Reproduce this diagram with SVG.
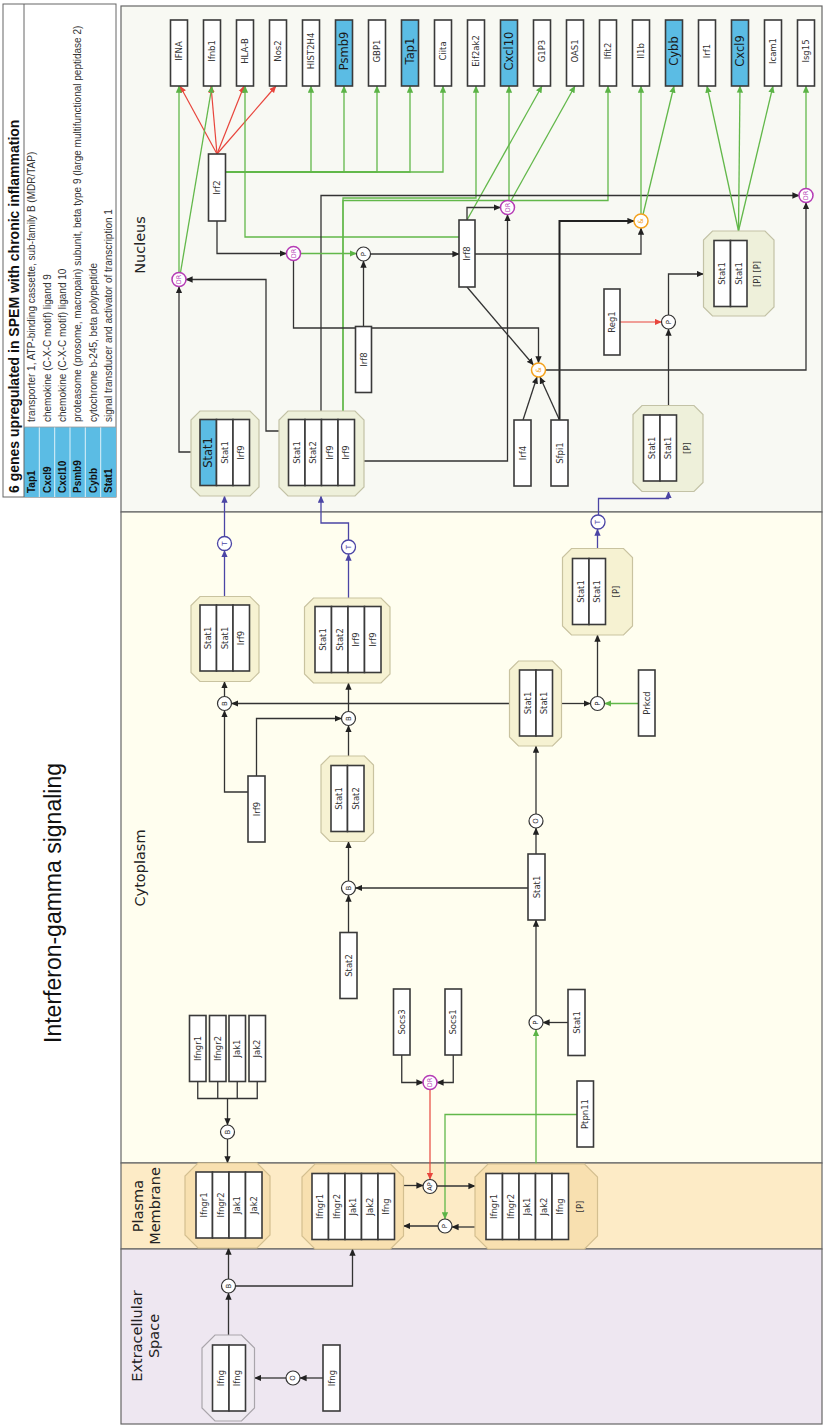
<svg xmlns="http://www.w3.org/2000/svg" width="825" height="1427" viewBox="0 0 825 1427">
<style>
.bx{fill:#fff;stroke:#3a3a3a;stroke-width:1.6}
.bb{fill:#5bbce4;stroke:#3a3a3a;stroke-width:1.6}
.t{font-family:"DejaVu Sans",sans-serif;font-size:8.5px;fill:#333;text-anchor:middle;dominant-baseline:central}
.tb{font-family:"DejaVu Sans",sans-serif;font-size:11.5px;fill:#1a1a1a;text-anchor:middle;dominant-baseline:central}
.cl{font-family:"DejaVu Sans",sans-serif;font-size:14.5px;fill:#222;text-anchor:middle;dominant-baseline:central}
.cn{fill:#eef0da;stroke:#c3c2a6;stroke-width:1.2}
.cc{fill:#f6f2d2;stroke:#c9c3a0;stroke-width:1.2}
.cm{fill:#f8e0b0;stroke:#d4bf90;stroke-width:1.2}
.ce{fill:#efeaf1;stroke:#a9a5ab;stroke-width:1.2}
.k{stroke:#333;stroke-width:1.3;fill:none}
.k2{stroke:#222;stroke-width:2;fill:none}
.g{stroke:#62b84a;stroke-width:1.3;fill:none}
.r{stroke:#e8453c;stroke-width:1.2;fill:none}
.u{stroke:#4b45a5;stroke-width:1.3;fill:none}
.nk{fill:#fff;stroke:#333;stroke-width:1.2}
.nm{fill:#fff;stroke:#b53cb5;stroke-width:1.5}
.no{fill:#fff;stroke:#f4a21e;stroke-width:1.5}
.nu{fill:#fff;stroke:#4b45a5;stroke-width:1.3}
.ct{font-family:"DejaVu Sans",sans-serif;font-size:7px;fill:#222;text-anchor:middle;dominant-baseline:central}
.cmt{font-family:"DejaVu Sans",sans-serif;font-size:6.5px;fill:#b53cb5;text-anchor:middle;dominant-baseline:central}
.cot{font-family:"DejaVu Sans",sans-serif;font-size:7px;fill:#f4a21e;text-anchor:middle;dominant-baseline:central}
.cut{font-family:"DejaVu Sans",sans-serif;font-size:7px;fill:#4b45a5;text-anchor:middle;dominant-baseline:central}
.lg{font-family:"Liberation Sans",Arial,sans-serif;font-size:10px;fill:#333;dominant-baseline:central}
.lgb{font-family:"Liberation Sans",Arial,sans-serif;font-size:10px;font-weight:bold;fill:#111;dominant-baseline:central}
</style>
<defs>
<marker id="ak" viewBox="0 0 10 10" refX="9.5" refY="5" markerWidth="7" markerHeight="7" orient="auto" markerUnits="userSpaceOnUse"><path d="M0,0.5 L10,5 L0,9.5 Z" fill="#222"/></marker>
<marker id="ag" viewBox="0 0 10 10" refX="9.5" refY="5" markerWidth="7" markerHeight="7" orient="auto" markerUnits="userSpaceOnUse"><path d="M0,0.5 L10,5 L0,9.5 Z" fill="#5bb346"/></marker>
<marker id="ar" viewBox="0 0 10 10" refX="9.5" refY="5" markerWidth="7" markerHeight="7" orient="auto" markerUnits="userSpaceOnUse"><path d="M0,0.5 L10,5 L0,9.5 Z" fill="#e8453c"/></marker>
<marker id="au" viewBox="0 0 10 10" refX="9.5" refY="5" markerWidth="7" markerHeight="7" orient="auto" markerUnits="userSpaceOnUse"><path d="M0,0.5 L10,5 L0,9.5 Z" fill="#4b45a5"/></marker>
</defs>
<rect x="0" y="0" width="825" height="1427" fill="#fff"/>

<!-- Title -->
<text x="53" y="903" transform="rotate(-90 53 903)" style="font-family:'Liberation Sans',Arial,sans-serif;font-size:23px;fill:#111;text-anchor:middle;dominant-baseline:central">Interferon-gamma signaling</text>

<!-- Legend -->
<g id="legend">
<rect x="3" y="4" width="113" height="493" fill="#fff" stroke="#666" stroke-width="1"/>
<rect x="24" y="427" width="92" height="70" fill="#5bbce4"/>
<line x1="24" y1="4" x2="24" y2="497" stroke="#666" stroke-width="1"/>
<g stroke="#fff" stroke-width="0.8"><line x1="39.3" y1="427" x2="39.3" y2="497"/><line x1="54.7" y1="427" x2="54.7" y2="497"/><line x1="70" y1="427" x2="70" y2="497"/><line x1="85.3" y1="427" x2="85.3" y2="497"/><line x1="100.7" y1="427" x2="100.7" y2="497"/></g>
<line x1="24" y1="427" x2="116" y2="427" stroke="#999" stroke-width="0.8"/>
<text x="14" y="493" transform="rotate(-90 14 493)" style="font-family:'Liberation Sans',Arial,sans-serif;font-size:14px;font-weight:bold;fill:#111;dominant-baseline:central">6 genes upregulated in SPEM with chronic inflammation</text>
<text class="lgb" x="31.7" y="493" transform="rotate(-90 31.7 493)">Tap1</text>
<text class="lgb" x="47" y="493" transform="rotate(-90 47 493)">Cxcl9</text>
<text class="lgb" x="62.3" y="493" transform="rotate(-90 62.3 493)">Cxcl10</text>
<text class="lgb" x="77.7" y="493" transform="rotate(-90 77.7 493)">Psmb9</text>
<text class="lgb" x="93" y="493" transform="rotate(-90 93 493)">Cybb</text>
<text class="lgb" x="108.3" y="493" transform="rotate(-90 108.3 493)">Stat1</text>
<text class="lg" x="31.7" y="422" transform="rotate(-90 31.7 422)">transporter 1, ATP-binding cassette, sub-family B (MDR/TAP)</text>
<text class="lg" x="47" y="422" transform="rotate(-90 47 422)">chemokine (C-X-C motif) ligand 9</text>
<text class="lg" x="62.3" y="422" transform="rotate(-90 62.3 422)">chemokine (C-X-C motif) ligand 10</text>
<text class="lg" x="77.7" y="422" transform="rotate(-90 77.7 422)">proteasome (prosome, macropain) subunit, beta type 9 (large multifunctional peptidase 2)</text>
<text class="lg" x="93" y="422" transform="rotate(-90 93 422)">cytochrome b-245, beta polypeptide</text>
<text class="lg" x="108.3" y="422" transform="rotate(-90 108.3 422)">signal transducer and activator of transcription 1</text>
</g>

<!-- Compartments -->
<g id="compartments">
<rect x="121" y="6" width="701" height="506" fill="#f8f9f3" stroke="#666" stroke-width="1.2"/>
<rect x="121" y="512" width="701" height="651" fill="#fffeef" stroke="#666" stroke-width="1.2"/>
<rect x="121" y="1163" width="701" height="86" fill="#fdebc6" stroke="#666" stroke-width="1.2"/>
<rect x="121" y="1249" width="701" height="175" fill="#eee7f1" stroke="#666" stroke-width="1.2"/>
<text class="cl" x="140" y="245" transform="rotate(-90 140 245)">Nucleus</text>
<text class="cl" x="140" y="868" transform="rotate(-90 140 868)">Cytoplasm</text>
<text class="cl" x="138" y="1206" transform="rotate(-90 138 1206)">Plasma</text>
<text class="cl" x="155" y="1206" transform="rotate(-90 155 1206)">Membrane</text>
<text class="cl" x="137" y="1336" transform="rotate(-90 137 1336)">Extracellular</text>
<text class="cl" x="154" y="1336" transform="rotate(-90 154 1336)">Space</text>
</g>

<!-- Connectors -->
<g id="connectors">
<!-- Irf2 red inhibitions -->
<path class="r" d="M217,154 L180,86" marker-end="url(#ar)"/>
<path class="r" d="M217,154 L211,86" marker-end="url(#ar)"/>
<path class="r" d="M217,154 L244,86" marker-end="url(#ar)"/>
<path class="r" d="M217,154 L276,86" marker-end="url(#ar)"/>
<!-- Irf2 green -->
<path class="g" d="M225.5,172 H311 V86" marker-end="url(#ag)"/>
<path class="g" d="M225.5,172 H344 V86" marker-end="url(#ag)"/>
<path class="g" d="M225.5,172 H377 V86" marker-end="url(#ag)"/>
<path class="g" d="M225.5,172 H410 V86" marker-end="url(#ag)"/>
<path class="g" d="M225.5,172 H443 V86" marker-end="url(#ag)"/>
<!-- Irf8 upper -->
<path class="g" d="M459,237 H245 V86" marker-end="url(#ag)"/>
<path class="g" d="M467,220 L542,86" marker-end="url(#ag)"/>
<path class="k" d="M467,220 V207.5 H500.5" marker-end="url(#ak)"/>
<path class="k" d="M475,254 H641 V228" marker-end="url(#ak)"/>
<path class="k" d="M467,287 L533.5,365" marker-end="url(#ak)"/>
<!-- DR3 -->
<path class="g" d="M509,200.5 V86" marker-end="url(#ag)"/>
<path class="g" d="M510.5,201.5 L575,86" marker-end="url(#ag)"/>
<!-- complex B outputs -->
<path class="g" d="M343,411 V198 H476 V86" marker-end="url(#ag)"/>
<path class="g" d="M343,411 V200.5 H608 V86" marker-end="url(#ag)"/>
<path class="k" d="M321,411 V195.5 H799" marker-end="url(#ak)"/>
<path class="k" d="M279,431 H266 V279.5 H186" marker-end="url(#ak)"/>
<path class="k" d="M355,461 H507.5 V214.5" marker-end="url(#ak)"/>
<!-- complex A -->
<path class="k" d="M191,452 H179 V286.5" marker-end="url(#ak)"/>
<!-- DR1 -->
<path class="g" d="M179,272.5 V86" marker-end="url(#ag)"/>
<path class="g" d="M180.5,272.5 L212,86" marker-end="url(#ag)"/>
<!-- Irf2 to DR2 -->
<path class="k" d="M217,221 V253.5 H286.5" marker-end="url(#ak)"/>
<path class="g" d="M300.5,253.5 H356.5" marker-end="url(#ag)"/>
<path class="k" d="M293.5,260.5 V328 H538.5 V363" marker-end="url(#ak)"/>
<path class="k" d="M363.5,326.5 V261" marker-end="url(#ak)"/>
<path class="k" d="M370.5,254 H459" marker-end="url(#ak)"/>
<!-- Irf4 / Sfpi1 -->
<path class="k" d="M523,420 L537,377" marker-end="url(#ak)"/>
<path class="k" d="M559.5,420 L540,377" marker-end="url(#ak)"/>
<path class="k2" d="M559.5,420 V221 H634" marker-end="url(#ak)"/>
<path class="k" d="M545.5,370 H806 V202.5" marker-end="url(#ak)"/>
<!-- O1 outputs -->
<path class="g" d="M641,214 V86" marker-end="url(#ag)"/>
<path class="g" d="M643,214.5 L674,86" marker-end="url(#ag)"/>
<!-- DR4 -->
<path class="g" d="M806,188.5 V86" marker-end="url(#ag)"/>
<!-- N4 outputs -->
<path class="g" d="M738.5,231 L707,86" marker-end="url(#ag)"/>
<path class="g" d="M738.5,231 L740,86" marker-end="url(#ag)"/>
<path class="g" d="M738.5,231 L773,86" marker-end="url(#ag)"/>
<path class="k" d="M668.5,315 V274 H703.5" marker-end="url(#ak)"/>
<path class="r" d="M620,322 H661.5" marker-end="url(#ar)"/>
<path class="k" d="M668.5,405.5 V329" marker-end="url(#ak)"/>
<!-- translocations -->
<path class="u" d="M597.5,548.5 V529" marker-end="url(#au)"/>
<path class="u" d="M598.5,515 V498.5 H668.5 V491.5" marker-end="url(#au)"/>
<path class="u" d="M224.5,596.5 V550.5" marker-end="url(#au)"/>
<path class="u" d="M224.5,536.5 V496" marker-end="url(#au)"/>
<path class="u" d="M348.5,598 V554" marker-end="url(#au)"/>
<path class="u" d="M348.5,540 V523 H321 V496" marker-end="url(#au)"/>
<!-- cytoplasm -->
<path class="k" d="M509.5,703.5 H231.5" marker-end="url(#ak)"/>
<path class="k" d="M224.5,696.5 V681.5" marker-end="url(#ak)"/>
<path class="k" d="M248,792 H224.5 V710.5" marker-end="url(#ak)"/>
<path class="k" d="M256.5,776 V718.5 H341.5" marker-end="url(#ak)"/>
<path class="k" d="M348.5,711.5 V683" marker-end="url(#ak)"/>
<path class="k" d="M348.5,756 V725.5" marker-end="url(#ak)"/>
<path class="k" d="M561.5,703.5 H590.5" marker-end="url(#ak)"/>
<path class="g" d="M638.5,703.5 H604.5" marker-end="url(#ag)"/>
<path class="k" d="M597.5,696.5 V635" marker-end="url(#ak)"/>
<path class="k" d="M536,814 V746" marker-end="url(#ak)"/>
<path class="k" d="M536,854 V828" marker-end="url(#ak)"/>
<path class="k" d="M528.5,888 H355.5" marker-end="url(#ak)"/>
<path class="k" d="M348.5,881 V841.5" marker-end="url(#ak)"/>
<path class="k" d="M348.5,932.5 V895" marker-end="url(#ak)"/>
<path class="k" d="M536,1015.5 V920" marker-end="url(#ak)"/>
<path class="k" d="M568,1022.5 H543" marker-end="url(#ak)"/>
<path class="g" d="M536,1164 V1029.5" marker-end="url(#ag)"/>
<path class="g" d="M577,1114.5 H445 V1219" marker-end="url(#ag)"/>
<path class="k" d="M401.75,1055 V1082.5 H423" marker-end="url(#ak)"/>
<path class="k" d="M453.25,1055 V1082.5 H437" marker-end="url(#ak)"/>
<path class="r" d="M430,1089.5 V1179.5" marker-end="url(#ar)"/>
<path class="k" d="M197.75,1081.5 V1098.5 H257.25 V1081.5 M217.75,1081.5 V1098.5 M237.25,1081.5 V1098.5"/>
<path class="k" d="M227.5,1098.5 V1125" marker-end="url(#ak)"/>
<path class="k" d="M227.5,1139 V1163" marker-end="url(#ak)"/>
<!-- membrane -->
<path class="k" d="M403.5,1185.5 H423" marker-end="url(#ak)"/>
<path class="k" d="M437,1186 H475" marker-end="url(#ak)"/>
<path class="k" d="M475,1227 H452" marker-end="url(#ak)"/>
<path class="k" d="M438,1226 H403.5" marker-end="url(#ak)"/>
<!-- extracellular -->
<path class="k" d="M228.5,1279 V1248" marker-end="url(#ak)"/>
<path class="k" d="M235.5,1286 H352.5 V1249" marker-end="url(#ak)"/>
<path class="k" d="M228.5,1335 V1293" marker-end="url(#ak)"/>
<path class="k" d="M323,1378 H300" marker-end="url(#ak)"/>
<path class="k" d="M286,1378 H254.5" marker-end="url(#ak)"/>
</g>

<!-- Gene nodes -->
<g id="IFNA"><rect class="bx" x="170.5" y="20" width="17" height="66"/><text class="t" x="179" y="51" transform="rotate(-90 179 51)">IFNA</text></g>
<g id="Ifnb1"><rect class="bx" x="203.5" y="20" width="17" height="66"/><text class="t" x="212" y="51" transform="rotate(-90 212 51)">Ifnb1</text></g>
<g id="HLA-B"><rect class="bx" x="236.5" y="20" width="17" height="66"/><text class="t" x="245" y="51" transform="rotate(-90 245 51)">HLA-B</text></g>
<g id="Nos2"><rect class="bx" x="269.5" y="20" width="17" height="66"/><text class="t" x="278" y="51" transform="rotate(-90 278 51)">Nos2</text></g>
<g id="HIST2H4"><rect class="bx" x="302.5" y="20" width="17" height="66"/><text class="t" x="311" y="51" transform="rotate(-90 311 51)">HIST2H4</text></g>
<g id="Psmb9"><rect class="bb" x="335.5" y="20" width="17" height="66"/><text class="tb" x="344" y="51" transform="rotate(-90 344 51)">Psmb9</text></g>
<g id="GBP1"><rect class="bx" x="368.5" y="20" width="17" height="66"/><text class="t" x="377" y="51" transform="rotate(-90 377 51)">GBP1</text></g>
<g id="Tap1"><rect class="bb" x="401.5" y="20" width="17" height="66"/><text class="tb" x="410" y="51" transform="rotate(-90 410 51)">Tap1</text></g>
<g id="Ciita"><rect class="bx" x="434.5" y="20" width="17" height="66"/><text class="t" x="443" y="51" transform="rotate(-90 443 51)">Ciita</text></g>
<g id="Eif2ak2"><rect class="bx" x="467.5" y="20" width="17" height="66"/><text class="t" x="476" y="51" transform="rotate(-90 476 51)">Eif2ak2</text></g>
<g id="Cxcl10"><rect class="bb" x="500.5" y="20" width="17" height="66"/><text class="tb" x="509" y="51" transform="rotate(-90 509 51)">Cxcl10</text></g>
<g id="G1P3"><rect class="bx" x="533.5" y="20" width="17" height="66"/><text class="t" x="542" y="51" transform="rotate(-90 542 51)">G1P3</text></g>
<g id="OAS1"><rect class="bx" x="566.5" y="20" width="17" height="66"/><text class="t" x="575" y="51" transform="rotate(-90 575 51)">OAS1</text></g>
<g id="Ifit2"><rect class="bx" x="599.5" y="20" width="17" height="66"/><text class="t" x="608" y="51" transform="rotate(-90 608 51)">Ifit2</text></g>
<g id="Il1b"><rect class="bx" x="632.5" y="20" width="17" height="66"/><text class="t" x="641" y="51" transform="rotate(-90 641 51)">Il1b</text></g>
<g id="Cybb"><rect class="bb" x="665.5" y="20" width="17" height="66"/><text class="tb" x="674" y="51" transform="rotate(-90 674 51)">Cybb</text></g>
<g id="Irf1"><rect class="bx" x="698.5" y="20" width="17" height="66"/><text class="t" x="707" y="51" transform="rotate(-90 707 51)">Irf1</text></g>
<g id="Cxcl9"><rect class="bb" x="731.5" y="20" width="17" height="66"/><text class="tb" x="740" y="51" transform="rotate(-90 740 51)">Cxcl9</text></g>
<g id="Icam1"><rect class="bx" x="764.5" y="20" width="17" height="66"/><text class="t" x="773" y="51" transform="rotate(-90 773 51)">Icam1</text></g>
<g id="Isg15"><rect class="bx" x="797.5" y="20" width="17" height="66"/><text class="t" x="806" y="51" transform="rotate(-90 806 51)">Isg15</text></g>

<!-- Nucleus single nodes -->
<g id="Irf2"><rect class="bx" x="208.5" y="154" width="17" height="67"/><text class="t" x="217" y="187.5" transform="rotate(-90 217 187.5)">Irf2</text></g>
<g id="Irf8-upper"><rect class="bx" x="459" y="220" width="16" height="67"/><text class="t" x="467" y="253.5" transform="rotate(-90 467 253.5)">Irf8</text></g>
<g id="Irf8-lower"><rect class="bx" x="355.5" y="326.5" width="16" height="66"/><text class="t" x="363.5" y="359.5" transform="rotate(-90 363.5 359.5)">Irf8</text></g>
<g id="Irf4"><rect class="bx" x="514" y="420" width="17" height="66"/><text class="t" x="522.5" y="453" transform="rotate(-90 522.5 453)">Irf4</text></g>
<g id="Sfpi1"><rect class="bx" x="551" y="420" width="17" height="66"/><text class="t" x="559.5" y="453" transform="rotate(-90 559.5 453)">Sfpi1</text></g>
<g id="Reg1"><rect class="bx" x="604" y="289" width="16" height="66"/><text class="t" x="612" y="322" transform="rotate(-90 612 322)">Reg1</text></g>

<!-- Nucleus complexes -->
<g id="cplx-A">
<path class="cn" d="M200,411 H250 L259,420 V487 L250,496 H200 L191,487 V420 Z"/>
<rect class="bb" x="200" y="419.5" width="16.5" height="66"/><rect class="bx" x="216.5" y="419.5" width="16.5" height="66"/><rect class="bx" x="233" y="419.5" width="16.5" height="66"/>
<text class="tb" x="208.25" y="452.5" transform="rotate(-90 208.25 452.5)">Stat1</text>
<text class="t" x="224.75" y="452.5" transform="rotate(-90 224.75 452.5)">Stat1</text>
<text class="t" x="241.25" y="452.5" transform="rotate(-90 241.25 452.5)">Irf9</text>
</g>
<g id="cplx-B">
<path class="cn" d="M288,411 H355 L364,420 V487 L355,496 H288 L279,487 V420 Z"/>
<rect class="bx" x="288.5" y="419.5" width="16.5" height="66"/><rect class="bx" x="305" y="419.5" width="16.5" height="66"/><rect class="bx" x="321.5" y="419.5" width="16.5" height="66"/><rect class="bx" x="338" y="419.5" width="16.5" height="66"/>
<text class="t" x="296.75" y="452.5" transform="rotate(-90 296.75 452.5)">Stat1</text>
<text class="t" x="313.25" y="452.5" transform="rotate(-90 313.25 452.5)">Stat2</text>
<text class="t" x="329.75" y="452.5" transform="rotate(-90 329.75 452.5)">Irf9</text>
<text class="t" x="346.25" y="452.5" transform="rotate(-90 346.25 452.5)">Irf9</text>
</g>
<g id="cplx-N3">
<path class="cn" d="M642,405.5 H694 L703,414.5 V482.5 L694,491.5 H642 L633,482.5 V414.5 Z"/>
<rect class="bx" x="643.5" y="415" width="16.5" height="66"/><rect class="bx" x="660" y="415" width="16.5" height="66"/>
<text class="t" x="651.75" y="448" transform="rotate(-90 651.75 448)">Stat1</text>
<text class="t" x="668.25" y="448" transform="rotate(-90 668.25 448)">Stat1</text>
<text class="t" x="687" y="448" transform="rotate(-90 687 448)">[P]</text>
</g>
<g id="cplx-N4">
<path class="cn" d="M712.5,231 H765 L774,240 V307 L765,316 H712.5 L703.5,307 V240 Z"/>
<rect class="bx" x="714" y="240.5" width="16.5" height="66"/><rect class="bx" x="730.5" y="240.5" width="16.5" height="66"/>
<text class="t" x="722.25" y="273.5" transform="rotate(-90 722.25 273.5)">Stat1</text>
<text class="t" x="738.75" y="273.5" transform="rotate(-90 738.75 273.5)">Stat1</text>
<text class="t" x="757" y="274" transform="rotate(-90 757 274)">[P] [P]</text>
</g>

<!-- Cytoplasm complexes -->
<g id="cplx-C">
<path class="cc" d="M200,596.5 H250 L259,605.5 V672.5 L250,681.5 H200 L191,672.5 V605.5 Z"/>
<rect class="bx" x="200" y="605" width="16.5" height="66"/><rect class="bx" x="216.5" y="605" width="16.5" height="66"/><rect class="bx" x="233" y="605" width="16.5" height="66"/>
<text class="t" x="208.25" y="638" transform="rotate(-90 208.25 638)">Stat1</text>
<text class="t" x="224.75" y="638" transform="rotate(-90 224.75 638)">Stat1</text>
<text class="t" x="241.25" y="638" transform="rotate(-90 241.25 638)">Irf9</text>
</g>
<g id="cplx-D">
<path class="cc" d="M313.5,598 H381 L390,607 V674 L381,683 H313.5 L304.5,674 V607 Z"/>
<rect class="bx" x="315" y="606.5" width="16.5" height="66"/><rect class="bx" x="331.5" y="606.5" width="16.5" height="66"/><rect class="bx" x="348" y="606.5" width="16.5" height="66"/><rect class="bx" x="364.5" y="606.5" width="16.5" height="66"/>
<text class="t" x="323.25" y="639.5" transform="rotate(-90 323.25 639.5)">Stat1</text>
<text class="t" x="339.75" y="639.5" transform="rotate(-90 339.75 639.5)">Stat2</text>
<text class="t" x="356.25" y="639.5" transform="rotate(-90 356.25 639.5)">Irf9</text>
<text class="t" x="372.75" y="639.5" transform="rotate(-90 372.75 639.5)">Irf9</text>
</g>
<g id="cplx-SS">
<path class="cc" d="M330,756 H364.5 L373.5,765 V832.5 L364.5,841.5 H330 L321,832.5 V765 Z"/>
<rect class="bx" x="331" y="765.5" width="16.5" height="66"/><rect class="bx" x="347.5" y="765.5" width="16.5" height="66"/>
<text class="t" x="339.25" y="798.5" transform="rotate(-90 339.25 798.5)">Stat1</text>
<text class="t" x="355.75" y="798.5" transform="rotate(-90 355.75 798.5)">Stat2</text>
</g>
<g id="cplx-E">
<path class="cc" d="M518.5,661 H552.5 L561.5,670 V737 L552.5,746 H518.5 L509.5,737 V670 Z"/>
<rect class="bx" x="519.5" y="670" width="16.5" height="66"/><rect class="bx" x="536" y="670" width="16.5" height="66"/>
<text class="t" x="527.75" y="703" transform="rotate(-90 527.75 703)">Stat1</text>
<text class="t" x="544.25" y="703" transform="rotate(-90 544.25 703)">Stat1</text>
</g>
<g id="cplx-F">
<path class="cc" d="M571.5,548.5 H623.5 L632.5,557.5 V626 L623.5,635 H571.5 L562.5,626 V557.5 Z"/>
<rect class="bx" x="572.5" y="558.5" width="16.5" height="66"/><rect class="bx" x="589" y="558.5" width="16.5" height="66"/>
<text class="t" x="580.75" y="591.5" transform="rotate(-90 580.75 591.5)">Stat1</text>
<text class="t" x="597.25" y="591.5" transform="rotate(-90 597.25 591.5)">Stat1</text>
<text class="t" x="616" y="591.5" transform="rotate(-90 616 591.5)">[P]</text>
</g>

<!-- Cytoplasm single nodes -->
<g id="Irf9"><rect class="bx" x="248" y="776" width="17" height="66"/><text class="t" x="256.5" y="809" transform="rotate(-90 256.5 809)">Irf9</text></g>
<g id="Stat1-mid"><rect class="bx" x="528" y="854" width="17" height="66"/><text class="t" x="536.5" y="887" transform="rotate(-90 536.5 887)">Stat1</text></g>
<g id="Stat2"><rect class="bx" x="340" y="932.5" width="17" height="66"/><text class="t" x="348.5" y="965.5" transform="rotate(-90 348.5 965.5)">Stat2</text></g>
<g id="Stat1-right"><rect class="bx" x="568" y="989.5" width="17" height="66"/><text class="t" x="576.5" y="1022.5" transform="rotate(-90 576.5 1022.5)">Stat1</text></g>
<g id="Prkcd"><rect class="bx" x="638.5" y="670" width="16.5" height="66"/><text class="t" x="646.75" y="703" transform="rotate(-90 646.75 703)">Prkcd</text></g>
<g id="Socs3"><rect class="bx" x="393.5" y="989" width="16.5" height="66"/><text class="t" x="401.75" y="1022" transform="rotate(-90 401.75 1022)">Socs3</text></g>
<g id="Socs1"><rect class="bx" x="445" y="989" width="16.5" height="66"/><text class="t" x="453.25" y="1022" transform="rotate(-90 453.25 1022)">Socs1</text></g>
<g id="Ptpn11"><rect class="bx" x="577" y="1081" width="16.5" height="66"/><text class="t" x="585.25" y="1114" transform="rotate(-90 585.25 1114)">Ptpn11</text></g>
<g id="Ifngr1-c"><rect class="bx" x="189.5" y="1015.5" width="16.5" height="66"/><text class="t" x="197.75" y="1048.5" transform="rotate(-90 197.75 1048.5)">Ifngr1</text></g>
<g id="Ifngr2-c"><rect class="bx" x="209.5" y="1015.5" width="16.5" height="66"/><text class="t" x="217.75" y="1048.5" transform="rotate(-90 217.75 1048.5)">Ifngr2</text></g>
<g id="Jak1-c"><rect class="bx" x="229" y="1015.5" width="16.5" height="66"/><text class="t" x="237.25" y="1048.5" transform="rotate(-90 237.25 1048.5)">Jak1</text></g>
<g id="Jak2-c"><rect class="bx" x="249" y="1015.5" width="16.5" height="66"/><text class="t" x="257.25" y="1048.5" transform="rotate(-90 257.25 1048.5)">Jak2</text></g>

<!-- Membrane complexes -->
<g id="cplx-M1">
<path class="cm" d="M198,1163 H257 L270,1176 V1235 L257,1248 H198 L185,1235 V1176 Z"/>
<rect class="bx" x="196" y="1172" width="16.5" height="66"/><rect class="bx" x="212.5" y="1172" width="16.5" height="66"/><rect class="bx" x="229" y="1172" width="16.5" height="66"/><rect class="bx" x="245.5" y="1172" width="16.5" height="66"/>
<text class="t" x="204.25" y="1205" transform="rotate(-90 204.25 1205)">Ifngr1</text>
<text class="t" x="220.75" y="1205" transform="rotate(-90 220.75 1205)">Ifngr2</text>
<text class="t" x="237.25" y="1205" transform="rotate(-90 237.25 1205)">Jak1</text>
<text class="t" x="253.75" y="1205" transform="rotate(-90 253.75 1205)">Jak2</text>
</g>
<g id="cplx-M2">
<path class="cm" d="M315,1164 H390.5 L403.5,1177 V1236 L390.5,1249 H315 L302,1236 V1177 Z"/>
<rect class="bx" x="312" y="1173.5" width="16.5" height="66"/><rect class="bx" x="328.5" y="1173.5" width="16.5" height="66"/><rect class="bx" x="345" y="1173.5" width="16.5" height="66"/><rect class="bx" x="361.5" y="1173.5" width="16.5" height="66"/><rect class="bx" x="378" y="1173.5" width="16.5" height="66"/>
<text class="t" x="320.25" y="1206.5" transform="rotate(-90 320.25 1206.5)">Ifngr1</text>
<text class="t" x="336.75" y="1206.5" transform="rotate(-90 336.75 1206.5)">Ifngr2</text>
<text class="t" x="353.25" y="1206.5" transform="rotate(-90 353.25 1206.5)">Jak1</text>
<text class="t" x="369.75" y="1206.5" transform="rotate(-90 369.75 1206.5)">Jak2</text>
<text class="t" x="386.25" y="1206.5" transform="rotate(-90 386.25 1206.5)">Ifng</text>
</g>
<g id="cplx-M3">
<path class="cm" d="M488,1164 H584.5 L597.5,1177 V1236 L584.5,1249 H488 L475,1236 V1177 Z"/>
<rect class="bx" x="486" y="1173.5" width="16.5" height="66"/><rect class="bx" x="502.5" y="1173.5" width="16.5" height="66"/><rect class="bx" x="519" y="1173.5" width="16.5" height="66"/><rect class="bx" x="535.5" y="1173.5" width="16.5" height="66"/><rect class="bx" x="552" y="1173.5" width="16.5" height="66"/>
<text class="t" x="494.25" y="1206.5" transform="rotate(-90 494.25 1206.5)">Ifngr1</text>
<text class="t" x="510.75" y="1206.5" transform="rotate(-90 510.75 1206.5)">Ifngr2</text>
<text class="t" x="527.25" y="1206.5" transform="rotate(-90 527.25 1206.5)">Jak1</text>
<text class="t" x="543.75" y="1206.5" transform="rotate(-90 543.75 1206.5)">Jak2</text>
<text class="t" x="560.25" y="1206.5" transform="rotate(-90 560.25 1206.5)">Ifng</text>
<text class="t" x="580" y="1206.5" transform="rotate(-90 580 1206.5)">[P]</text>
</g>

<!-- Extracellular -->
<g id="cplx-Ifng">
<path class="ce" d="M215,1335 H241.5 L254.5,1348 V1408 L241.5,1421 H215 L202,1408 V1348 Z"/>
<rect class="bx" x="212.5" y="1345" width="16.5" height="66"/><rect class="bx" x="229" y="1345" width="16.5" height="66"/>
<text class="t" x="220.75" y="1378" transform="rotate(-90 220.75 1378)">Ifng</text>
<text class="t" x="237.25" y="1378" transform="rotate(-90 237.25 1378)">Ifng</text>
</g>
<g id="Ifng"><rect class="bx" x="323" y="1345" width="17" height="66"/><text class="t" x="331.5" y="1378" transform="rotate(-90 331.5 1378)">Ifng</text></g>

<!-- Process nodes -->
<g id="DR1"><circle class="nm" cx="179" cy="279.5" r="7"/><text class="cmt" x="179" y="279.5" transform="rotate(-90 179 279.5)">DR</text></g>
<g id="DR2"><circle class="nm" cx="293.5" cy="253.5" r="7"/><text class="cmt" x="293.5" y="253.5" transform="rotate(-90 293.5 253.5)">DR</text></g>
<g id="P1"><circle class="nk" cx="363.5" cy="254" r="7"/><text class="ct" x="363.5" y="254" transform="rotate(-90 363.5 254)">P</text></g>
<g id="DR3"><circle class="nm" cx="507.5" cy="207.5" r="7"/><text class="cmt" x="507.5" y="207.5" transform="rotate(-90 507.5 207.5)">DR</text></g>
<g id="AND1"><circle class="no" cx="641" cy="221" r="7"/><text class="cot" x="641" y="221" transform="rotate(-90 641 221)">&amp;</text></g>
<g id="AND2"><circle class="no" cx="538.5" cy="370" r="7"/><text class="cot" x="538.5" y="370" transform="rotate(-90 538.5 370)">&amp;</text></g>
<g id="DR4"><circle class="nm" cx="806" cy="195.5" r="7"/><text class="cmt" x="806" y="195.5" transform="rotate(-90 806 195.5)">DR</text></g>
<g id="P2"><circle class="nk" cx="668.5" cy="322" r="7"/><text class="ct" x="668.5" y="322" transform="rotate(-90 668.5 322)">P</text></g>
<g id="T1"><circle class="nu" cx="224.5" cy="543.5" r="7"/><text class="cut" x="224.5" y="543.5" transform="rotate(-90 224.5 543.5)">T</text></g>
<g id="T2"><circle class="nu" cx="348.5" cy="547" r="7"/><text class="cut" x="348.5" y="547" transform="rotate(-90 348.5 547)">T</text></g>
<g id="T3"><circle class="nu" cx="598" cy="522" r="7"/><text class="cut" x="598" y="522" transform="rotate(-90 598 522)">T</text></g>
<g id="B1"><circle class="nk" cx="224.5" cy="703.5" r="7"/><text class="ct" x="224.5" y="703.5" transform="rotate(-90 224.5 703.5)">B</text></g>
<g id="B2"><circle class="nk" cx="348.5" cy="718.5" r="7"/><text class="ct" x="348.5" y="718.5" transform="rotate(-90 348.5 718.5)">B</text></g>
<g id="O3"><circle class="nk" cx="536" cy="821" r="7"/><text class="ct" x="536" y="821" transform="rotate(-90 536 821)">O</text></g>
<g id="P3"><circle class="nk" cx="597.5" cy="703.5" r="7"/><text class="ct" x="597.5" y="703.5" transform="rotate(-90 597.5 703.5)">P</text></g>
<g id="B3"><circle class="nk" cx="348.5" cy="888" r="7"/><text class="ct" x="348.5" y="888" transform="rotate(-90 348.5 888)">B</text></g>
<g id="P4"><circle class="nk" cx="536" cy="1022.5" r="7"/><text class="ct" x="536" y="1022.5" transform="rotate(-90 536 1022.5)">P</text></g>
<g id="DR5"><circle class="nm" cx="430" cy="1082.5" r="7"/><text class="cmt" x="430" y="1082.5" transform="rotate(-90 430 1082.5)">DR</text></g>
<g id="B4"><circle class="nk" cx="227.5" cy="1132" r="7"/><text class="ct" x="227.5" y="1132" transform="rotate(-90 227.5 1132)">B</text></g>
<g id="AP"><circle class="nk" cx="430" cy="1186.5" r="7"/><text class="ct" x="430" y="1186.5" transform="rotate(-90 430 1186.5)" style="font-size:6.5px">AP</text></g>
<g id="P5"><circle class="nk" cx="445" cy="1226" r="7"/><text class="ct" x="445" y="1226" transform="rotate(-90 445 1226)">P</text></g>
<g id="B5"><circle class="nk" cx="228.5" cy="1286" r="7"/><text class="ct" x="228.5" y="1286" transform="rotate(-90 228.5 1286)">B</text></g>
<g id="O4"><circle class="nk" cx="293" cy="1378" r="7"/><text class="ct" x="293" y="1378" transform="rotate(-90 293 1378)">O</text></g>
</svg>
